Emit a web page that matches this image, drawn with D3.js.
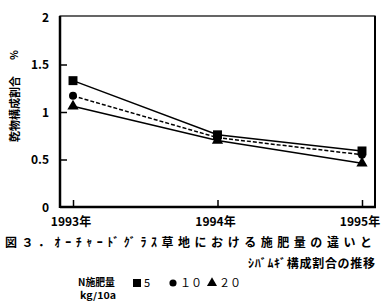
<!DOCTYPE html>
<html><head><meta charset="utf-8">
<script src="https://cdn.jsdelivr.net/npm/d3@7"></script>
<style>
html,body{margin:0;padding:0;background:#fff;}
svg text{font-family:"Noto Sans CJK JP","DejaVu Sans",sans-serif;fill:#000;}
</style></head>
<body>
<script>
const years = ["1993年","1994年","1995年"];
const yTicks = [0, 0.5, 1, 1.5, 2];
const yTickLabels = ["0","0.5","1","1.5","2"];
const series5 = [1.33, 0.76, 0.59];
const series10 = [1.17, 0.73, 0.55];
const series20 = [1.06, 0.70, 0.46];
const seriesNames = ["5","１０","２０"];
const yTitle = "乾物構成割合";
const yUnit = "%";
const caption1 = "図３．ｵｰﾁｬｰﾄﾞｸﾞﾗｽ草地における施肥量の違いと";
const caption2 = "ｼﾊﾞﾑｷﾞ構成割合の推移";
const legendTitle1 = "N施肥量";
const legendTitle2 = "kg/10a";

const W = 389, H = 302;
const svg = d3.select("body").append("svg").attr("width", W).attr("height", H);

const x0 = 60, x1 = 375, yTop = 16, yBot = 207;
const x = d3.scalePoint().domain(years).range([x0, x1]).padding(0.09);
const y = d3.scaleLinear().domain([0, 2]).range([yBot, yTop + 1]);

// frame
svg.append("rect").attr("x", x0).attr("y", yTop).attr("width", x1 - x0).attr("height", yBot - yTop)
  .attr("fill", "none").attr("stroke", "#000").attr("stroke-width", 1.2);
svg.append("line").attr("x1", x0).attr("x2", x0).attr("y1", yTop).attr("y2", yBot + 1)
  .attr("stroke", "#000").attr("stroke-width", 2.5);
svg.append("line").attr("x1", x0).attr("x2", x1 + 1).attr("y1", yBot).attr("y2", yBot)
  .attr("stroke", "#000").attr("stroke-width", 2.5);
svg.append("line").attr("x1", x1).attr("x2", x1).attr("y1", yTop).attr("y2", yBot)
  .attr("stroke", "#000").attr("stroke-width", 2);

// y axis ticks (inward)
const yAxis = d3.axisRight(y).tickValues(yTicks.slice(1, 4)).tickSize(7).tickFormat("");
const gy = svg.append("g").attr("transform", `translate(${x0},0)`).call(yAxis);
gy.select(".domain").remove();
gy.selectAll("line").attr("stroke-width", 1.5);
// y labels
svg.selectAll(".ylab").data(yTicks).enter().append("text")
  .attr("x", 49).attr("y", d => y(d) + 4.5)
  .attr("text-anchor", "end").attr("font-size", 12).attr("font-weight", "bold")
  .attr("font-family", "'DejaVu Sans Condensed','Liberation Sans Narrow',sans-serif")
  .text((d, i) => yTickLabels[i]);

// x axis ticks (inward)
const xAxis = d3.axisTop(x).tickSize(7).tickFormat("");
const gx = svg.append("g").attr("transform", `translate(0,${yBot})`).call(xAxis);
gx.select(".domain").remove();
gx.selectAll("line").attr("stroke-width", 1.5);
// x labels
svg.selectAll(".xlab").data(years).enter().append("text")
  .attr("x", d => x(d) - 2).attr("y", 226)
  .attr("text-anchor", "middle").attr("font-size", 12).attr("font-weight", "bold")
  .text(d => d);

// y title
svg.append("text").attr("transform", "translate(19,109) rotate(-90)")
  .attr("text-anchor", "middle").attr("font-size", 11).attr("font-weight", "bold")
  .attr("textLength", 66).attr("lengthAdjust", "spacing")
  .text(yTitle);
svg.append("text").attr("transform", "translate(18,55) rotate(-90)")
  .attr("text-anchor", "middle").attr("font-size", 10).attr("font-weight", "bold")
  .text(yUnit);

// series
const allSeries = [
  {vals: series5, shape: d3.symbolSquare, size: 80, dash: null},
  {vals: series10, shape: d3.symbolCircle, size: 50, dash: "4,2"},
  {vals: series20, shape: d3.symbolTriangle, size: 55, dash: null}
];
const line = d3.line().x((d, i) => x(years[i])).y(d => y(d));
allSeries.forEach(s => {
  svg.append("path").datum(s.vals).attr("d", line).attr("fill", "none")
    .attr("stroke", "#000").attr("stroke-width", 1.5)
    .attr("stroke-dasharray", s.dash);
  svg.selectAll(null).data(s.vals).enter().append("path")
    .attr("d", d3.symbol().type(s.shape).size(s.size))
    .attr("transform", (d, i) => `translate(${x(years[i])},${y(d)})`)
    .attr("fill", "#000");
});

// caption
svg.append("text").attr("x", 5).attr("y", 247).attr("font-size", 12).attr("font-weight", "bold")
  .attr("textLength", 367).attr("lengthAdjust", "spacing").text(caption1);
svg.append("text").attr("x", 248).attr("y", 268).attr("font-size", 12).attr("font-weight", "bold")
  .attr("textLength", 127).attr("lengthAdjust", "spacing").text(caption2);

// legend
svg.append("text").attr("x", 78).attr("y", 286).attr("font-size", 10).attr("font-weight", "bold")
  .attr("textLength", 37).attr("lengthAdjust", "spacingAndGlyphs").text(legendTitle1);
svg.append("text").attr("x", 80).attr("y", 299).attr("font-size", 9).attr("font-weight", "bold")
  .attr("font-family", "'DejaVu Serif',serif")
  .attr("textLength", 36).attr("lengthAdjust", "spacingAndGlyphs").text(legendTitle2);
const legX = [137, 173, 212];
allSeries.forEach((s, i) => {
  svg.append("path").attr("d", d3.symbol().type(s.shape).size(s.size * 0.8))
    .attr("transform", `translate(${legX[i]},283)`).attr("fill", "#000");
  svg.append("text").attr("x", legX[i] + 7).attr("y", 287).attr("font-size", 11)
    .text(seriesNames[i]);
});
</script>
</body></html>
